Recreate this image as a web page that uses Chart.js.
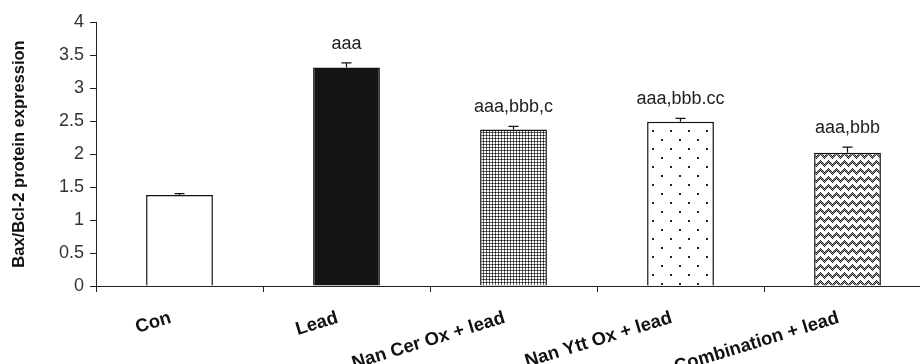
<!DOCTYPE html>
<html>
<head>
<meta charset="utf-8">
<script src="https://cdn.jsdelivr.net/npm/chart.js@4.4.1/dist/chart.umd.min.js"></script>
<style>
    html, body { margin: 0; padding: 0; background: #fff; overflow: hidden; }
    #wrap { width: 940px; height: 364px; position: relative; }
</style>
</head>
<body>
<div id="wrap"><canvas id="chart"></canvas></div>
<script>
const groups = ['Con', 'Lead', 'Nan Cer Ox + lead', 'Nan Ytt Ox + lead', 'Combination + lead'];
const means = [1.38, 3.31, 2.37, 2.49, 2.02];
const errors = [0.02, 0.07, 0.05, 0.05, 0.085];
const marks = ['', 'aaa', 'aaa,bbb,c', 'aaa,bbb.cc', 'aaa,bbb'];

const canvas = document.getElementById('chart');
const ctx = canvas.getContext('2d');

function makePattern(w, h, draw) {
    const c = document.createElement('canvas');
    c.width = w;
    c.height = h;
    const g = c.getContext('2d');
    g.fillStyle = '#fff';
    g.fillRect(0, 0, w, h);
    draw(g);
    return ctx.createPattern(c, 'repeat');
}

// fine dotted grid
const densePattern = makePattern(3, 3, g => {
    g.fillStyle = '#666';
    g.fillRect(0, 0, 3, 1);
    g.fillRect(0, 0, 1, 3);
    g.fillStyle = '#111';
    g.fillRect(0, 0, 1, 1);
});

// sparse staggered dots
const sparsePattern = makePattern(18, 18, g => {
    g.fillStyle = '#222';
    g.fillRect(4, 4, 2, 2);
    g.fillRect(13, 13, 2, 2);
});

// zig-zag weave, dithered
const weavePattern = makePattern(8, 8, g => {
    for (let x = 0; x < 8; x++) {
        for (let y = 0; y < 8; y++) {
            const band = (y - Math.abs(x - 4) + 16) % 8;
            if (band === 0) {
                g.fillStyle = '#222';
                g.fillRect(x, y, 1, 1);
            } else if (band === 1 || band === 2) {
                g.fillStyle = (x + y) % 2 === 0 ? '#333' : '#999';
                g.fillRect(x, y, 1, 1);
            }
        }
    }
});

const fills = ['#fff', '#141414', densePattern, sparsePattern, weavePattern];

const errorBars = {
    id: 'errorBars',
    afterDatasetsDraw(chart) {
        const meta = chart.getDatasetMeta(0);
        const yScale = chart.scales.y;
        const c = chart.ctx;
        c.save();
        c.strokeStyle = '#111';
        c.lineWidth = 1.2;
        meta.data.forEach((bar, i) => {
            const top = yScale.getPixelForValue(means[i] + errors[i]);
            c.beginPath();
            c.moveTo(bar.x, bar.y);
            c.lineTo(bar.x, top);
            c.moveTo(bar.x - 5, top);
            c.lineTo(bar.x + 5, top);
            c.stroke();

            if (marks[i]) {
                c.fillStyle = '#222';
                c.font = '18px "Liberation Sans", Arial, sans-serif';
                c.textAlign = 'center';
                c.textBaseline = 'alphabetic';
                c.fillText(marks[i], bar.x, top - 14);
            }
        });
        c.restore();
    }
};

new Chart(ctx, {
    type: 'bar',
    data: {
        labels: groups,
        datasets: [{
            data: means,
            backgroundColor: fills,
            borderColor: '#111',
            borderWidth: 1.5,
            barPercentage: 0.4,
            categoryPercentage: 1
        }]
    },
    options: {
        responsive: true,
        maintainAspectRatio: false,
        animation: false,
        layout: { padding: { top: 22, right: 9, left: 0, bottom: 0 } },
        scales: {
            x: {
                afterFit: scale => { scale.height = 78; },
                grid: {
                    offset: true,
                    drawOnChartArea: false,
                    tickLength: 6,
                    color: '#222'
                },
                border: { color: '#222', width: 1 },
                ticks: {
                    autoSkip: false,
                    minRotation: 17,
                    maxRotation: 17,
                    padding: 15,
                    labelOffset: -9,
                    color: '#111',
                    font: { family: '"Liberation Sans", Arial, sans-serif', size: 18.5, weight: 'bold' }
                }
            },
            y: {
                min: 0,
                max: 4,
                afterFit: scale => { scale.width = 96; },
                grid: {
                    drawOnChartArea: false,
                    tickLength: 6,
                    color: '#222'
                },
                border: { color: '#222', width: 1 },
                ticks: {
                    stepSize: 0.5,
                    padding: 6,
                    color: '#333',
                    font: { family: '"Liberation Sans", Arial, sans-serif', size: 18 },
                    callback: value => String(value)
                },
                title: {
                    display: true,
                    text: 'Bax/Bcl-2 protein expression',
                    color: '#111',
                    padding: { top: 10, bottom: 0 },
                    font: { family: '"Liberation Sans", Arial, sans-serif', size: 16.5, weight: 'bold' }
                }
            }
        },
        plugins: {
            legend: { display: false },
            tooltip: { enabled: false }
        }
    },
    plugins: [errorBars]
});
</script>
</body>
</html>
